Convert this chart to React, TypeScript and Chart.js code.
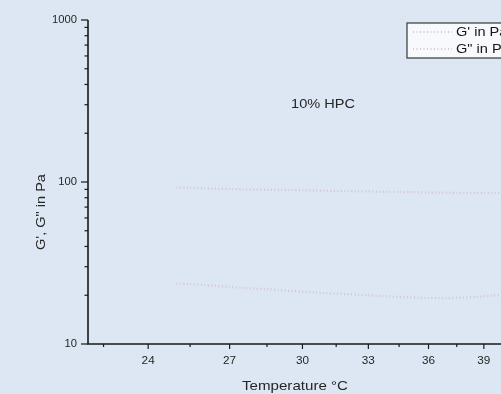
import React, { useEffect, useRef } from "react";
import { Chart, registerables } from "chart.js";

Chart.register(...registerables);

// ---- Data ----
const temperatures = [
  25, 25.5, 26, 26.5, 27, 27.5, 28, 28.5, 29, 29.5, 30, 30.5, 31, 31.5, 32, 32.5,
  33, 33.5, 34, 34.5, 35, 35.5, 36, 36.5, 37, 37.5, 38, 38.5, 39, 39.5, 40, 40.5,
  41, 41.5, 42,
];
const storageModulus = [
  92.5, 92, 91.5, 91, 90.5, 90, 90, 89.5, 89.5, 89, 89, 88.5, 88.5, 88, 88, 87.5,
  87.5, 87, 87, 87, 86.5, 86.5, 86, 86, 86, 85.5, 85.5, 85.5, 85.5, 85.5, 85.5, 85.5,
  85.5, 86, 86,
];
const lossModulus = [
  23.6, 23.4, 23.1, 22.8, 22.5, 22.2, 22.0, 21.8, 21.5, 21.2, 21.0, 20.8, 20.6, 20.5, 20.3, 20.1,
  20.0, 19.8, 19.7, 19.5, 19.4, 19.3, 19.2, 19.2, 19.2, 19.3, 19.4, 19.5, 19.7, 19.9, 20.0, 20.1,
  20.2, 20.3, 20.4,
];
const seriesLabels = ["G' in Pa", 'G" in Pa'];
const xTickValues = [24, 27, 30, 33, 36, 39, 42, 45];
const xMinorTickValues = [22.5, 25.5, 28.5, 31.5, 34.5, 37.5, 40.5, 43.5];
const yTickValues = [10, 100, 1000];
const xTitle = "Temperature °C";
const yTitle = "G', G\" in Pa";
const annotationText = "10% HPC";

const X_MIN = 22;
const X_MAX = 46;
const CANVAS_W = 620;
const CANVAS_H = 394;
const TEXT_STRETCH = 1.12;
const FONT = '"Liberation Sans", Arial, sans-serif';

function drawText(
  ctx: CanvasRenderingContext2D,
  text: string,
  x: number,
  y: number,
  align: CanvasTextAlign,
  size: number,
  color: string,
  rotate = 0
) {
  ctx.save();
  ctx.font = `${size}px ${FONT}`;
  ctx.fillStyle = color;
  ctx.textAlign = align;
  ctx.textBaseline = "middle";
  ctx.translate(x, y);
  if (rotate) ctx.rotate(rotate);
  ctx.scale(TEXT_STRETCH, 1);
  ctx.fillText(text, 0, 0);
  ctx.restore();
}

const axesPlugin = {
  id: "customAxes",
  afterDraw(chart: any) {
    const ctx: CanvasRenderingContext2D = chart.ctx;
    const { left, right, top, bottom } = chart.chartArea;
    const xs = chart.scales.x;
    const ys = chart.scales.y;
    const axisColor = "#1a1a1a";
    const textColor = "#262626";

    ctx.save();
    ctx.strokeStyle = axisColor;
    ctx.lineWidth = 1.6;
    ctx.beginPath();
    ctx.moveTo(left, top);
    ctx.lineTo(left, bottom);
    ctx.lineTo(right, bottom);
    ctx.stroke();

    ctx.lineWidth = 1.2;
    yTickValues.forEach((v, i) => {
      const py = ys.getPixelForValue(v);
      ctx.beginPath();
      ctx.moveTo(left - 7, py);
      ctx.lineTo(left, py);
      ctx.stroke();
      drawText(ctx, String(v), left - 11, py, "right", 10, textColor);
      if (i < yTickValues.length - 1) {
        for (let m = 2; m <= 9; m++) {
          const pm = ys.getPixelForValue(v * m);
          ctx.beginPath();
          ctx.moveTo(left - 3.5, pm);
          ctx.lineTo(left, pm);
          ctx.stroke();
        }
      }
    });

    xTickValues.forEach((v) => {
      const px = xs.getPixelForValue(v);
      ctx.beginPath();
      ctx.moveTo(px, bottom);
      ctx.lineTo(px, bottom + 5);
      ctx.stroke();
      drawText(ctx, String(v), px, bottom + 17, "center", 10.5, textColor);
    });
    xMinorTickValues.forEach((v) => {
      const px = xs.getPixelForValue(v);
      ctx.beginPath();
      ctx.moveTo(px, bottom);
      ctx.lineTo(px, bottom + 3);
      ctx.stroke();
    });
    ctx.restore();

    drawText(ctx, xTitle, 295, bottom + 42, "center", 13.5, textColor);
    drawText(ctx, yTitle, 41, 212, "center", 13, textColor, -Math.PI / 2);
    drawText(ctx, annotationText, 323, 104, "center", 13, textColor);

    // legend
    const lx = left + 319;
    const ly = top + 3;
    const lw = 120;
    const lh = 35;
    ctx.save();
    ctx.fillStyle = "#f7f9fc";
    ctx.fillRect(lx, ly, lw, lh);
    ctx.strokeStyle = "#444";
    ctx.lineWidth = 1.3;
    ctx.strokeRect(lx, ly, lw, lh);
    chart.data.datasets.forEach((ds: any, i: number) => {
      const ry = ly + 9 + i * 17;
      ctx.save();
      ctx.strokeStyle = ds.borderColor;
      ctx.lineWidth = ds.borderWidth;
      ctx.setLineDash(ds.borderDash);
      ctx.beginPath();
      ctx.moveTo(lx + 6, ry);
      ctx.lineTo(lx + 45, ry);
      ctx.stroke();
      ctx.restore();
      drawText(ctx, ds.label, lx + 49, ry, "left", 13, "#161616");
    });
    ctx.restore();
  },
};

export default function App() {
  const canvasRef = useRef<HTMLCanvasElement | null>(null);

  useEffect(() => {
    if (!canvasRef.current) return;
    const lineStyle = {
      borderColor: "rgba(212, 192, 204, 0.9)",
      borderWidth: 2.2,
      borderDash: [1, 2.5],
      pointRadius: 0,
      fill: false,
      tension: 0.3,
    };
    const chart = new Chart(canvasRef.current, {
      type: "line",
      data: {
        datasets: [
          {
            label: seriesLabels[0],
            data: temperatures.map((t, i) => ({ x: t, y: storageModulus[i] })),
            ...lineStyle,
          },
          {
            label: seriesLabels[1],
            data: temperatures.map((t, i) => ({ x: t, y: lossModulus[i] })),
            ...lineStyle,
          },
        ],
      },
      options: {
        responsive: false,
        animation: false,
        events: [],
        layout: {
          padding: { left: 88, top: 20, bottom: CANVAS_H - 344, right: CANVAS_W - 598 },
        },
        plugins: {
          legend: { display: false },
          tooltip: { enabled: false },
          title: { display: false },
        },
        scales: {
          x: { type: "logarithmic", min: X_MIN, max: X_MAX, display: false },
          y: { type: "logarithmic", min: 10, max: 1000, display: false },
        },
      },
      plugins: [axesPlugin],
    });
    return () => chart.destroy();
  }, []);

  return (
    <div
      style={{
        position: "fixed",
        left: 0,
        top: 0,
        width: 501,
        height: 394,
        overflow: "hidden",
        background: "#dde7f3",
      }}
    >
      <canvas
        ref={canvasRef}
        width={CANVAS_W}
        height={CANVAS_H}
        style={{ display: "block", width: CANVAS_W, height: CANVAS_H }}
      />
    </div>
  );
}
